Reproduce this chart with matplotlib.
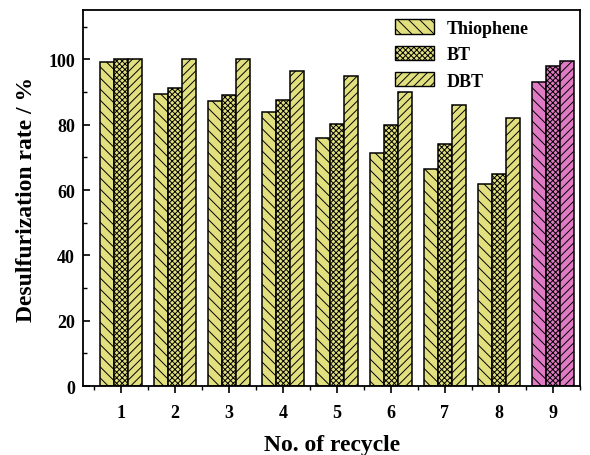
import numpy as np
import matplotlib
matplotlib.use("Agg")
import matplotlib.pyplot as plt
from matplotlib.ticker import MultipleLocator

plt.rcParams['font.family'] = ['Liberation Serif', 'DejaVu Serif']
plt.rcParams['font.weight'] = 'bold'
plt.rcParams['hatch.color'] = '#55553a'
plt.rcParams['hatch.linewidth'] = 0.7

cycles = ['1', '2', '3', '4', '5', '6', '7', '8', '9']
thiophene = [99.2, 89.5, 87.2, 84.0, 75.8, 71.5, 66.5, 62.0, 93.0]
bt = [100.0, 91.2, 89.0, 87.5, 80.2, 79.8, 74.0, 65.0, 98.0]
dbt = [100.0, 100.0, 100.0, 96.3, 95.0, 90.0, 86.0, 82.0, 99.5]

series = [('Thiophene', thiophene, '\\\\\\'), ('BT', bt, 'xxxxxx'), ('DBT', dbt, '////')]
yellow = '#E2E07E'
pink = '#E07AC4'
colors = [yellow] * 8 + [pink]

fig = plt.figure(figsize=(5.9, 4.56), dpi=100)
ax = fig.add_axes([0.141, 0.151, 0.842, 0.824])

x = np.arange(1, len(cycles) + 1)
w = 0.265
for i, (name, vals, hatch) in enumerate(series):
    ax.bar(x + (i - 1) * w, vals, w, color=colors, edgecolor='black',
           linewidth=1.1, hatch=hatch, label=name)

ax.set_xlim(0.3, 9.5)
ax.set_ylim(0, 115)
ax.set_xticks(x)
ax.set_xticklabels(cycles)
ax.xaxis.set_minor_locator(MultipleLocator(0.5))
ax.yaxis.set_major_locator(MultipleLocator(20))
ax.yaxis.set_minor_locator(MultipleLocator(10))
ax.tick_params(axis='x', which='both', direction='out', top=False, labelsize=13, pad=8)
ax.tick_params(axis='x', which='major', length=5, width=1.2)
ax.tick_params(axis='x', which='minor', length=3, width=1.0)
ax.tick_params(axis='y', which='both', direction='in', right=False, labelsize=13, pad=6)
ax.tick_params(axis='y', which='major', length=5, width=1.2)
ax.tick_params(axis='y', which='minor', length=3, width=1.0)
for s in ax.spines.values():
    s.set_linewidth(1.3)

ax.set_xlabel('No. of recycle', fontsize=17, fontweight='bold', labelpad=9)
ax.set_ylabel('Desulfurization rate / %', fontsize=17, fontweight='bold', labelpad=8)

handles = [plt.Rectangle((0, 0), 1, 1, facecolor=yellow, edgecolor='black', hatch=h, linewidth=1.0)
           for _, _, h in series]
ax.legend(handles, [s[0] for s in series], loc='upper right', frameon=False,
          fontsize=13, handlelength=2.2, handleheight=0.85, labelspacing=0.5,
          handletextpad=0.7, bbox_to_anchor=(0.93, 1.02))

fig.savefig('out.png', dpi=100)
